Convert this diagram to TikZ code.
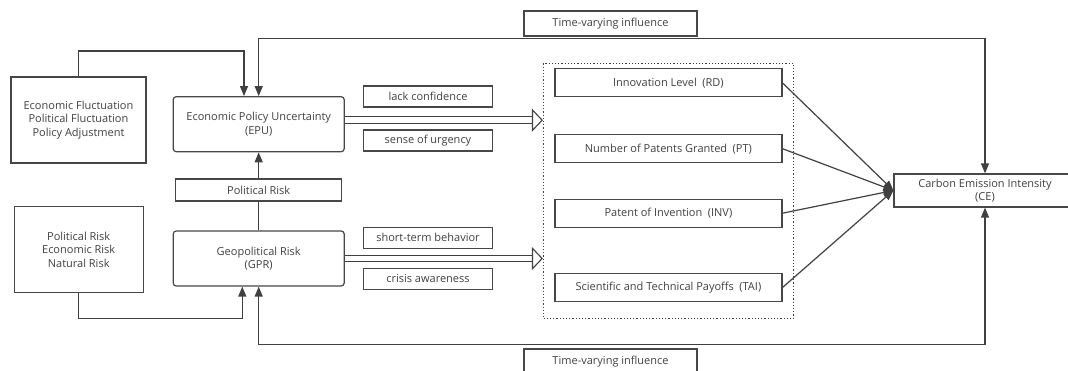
\documentclass[tikz,border=0pt]{standalone}
\usepackage{fontspec}
\setmainfont{Open Sans}
\usetikzlibrary{arrows.meta}

\begin{document}
\begin{tikzpicture}[
    x=1pt, y=-1pt,
    every node/.style={font=\fontsize{11}{13.5}\selectfont, text=black!75,
        inner sep=0pt, align=center},
    boks/.style={rectangle, draw=black!72, line width=1.2pt},
    rund/.style={boks, rounded corners=3pt, minimum width=171, minimum height=55},
    merk/.style={boks, minimum width=129, minimum height=21},
    inno/.style={boks, minimum width=227, minimum height=28},
    tid/.style={boks, minimum width=173, minimum height=25},
    linje/.style={draw=black!75, line width=1.2pt},
    pil/.style={linje, -{Triangle[length=10pt,width=8pt]}},
    pil2/.style={linje, {Triangle[length=10pt,width=8pt]}-{Triangle[length=10pt,width=8pt]}},
    dobbel/.style={draw=black!75, line width=1.1pt, double, double distance=5.5pt,
        -{Triangle[open,length=11pt,width=23pt]}}
    ]
\useasboundingbox (0,0) rectangle (1068,371);

%Left part, causes
\node[boks, minimum width=135, minimum height=86] (svingn) at (78.5,120)
    {Economic Fluctuation\\Political Fluctuation\\Policy Adjustment};
\node[boks, minimum width=129, minimum height=86] (risiko) at (78.7,249.5)
    {Political Risk\\Economic Risk\\Natural Risk};

%Uncertainty and risk
\node[rund] (EPU) at (258.7,124.2) {Economic Policy Uncertainty\\(EPU)};
\node[rund] (GPR) at (258.7,258.5) {Geopolitical Risk\\(GPR)};
\node[boks, minimum width=166, minimum height=22] (polrisk) at (258.7,190) {Political Risk};

%Channels
\node[merk] (lack) at (428,96.5) {lack confidence};
\node[merk] (urgency) at (428,140.5) {sense of urgency};
\node[merk] (short) at (428,237.7) {short-term behavior};
\node[merk] (crisis) at (428,279) {crisis awareness};

%Innovation group
\node[linje, dotted, minimum width=250, minimum height=255] (innov) at (668.5,190.8) {};
\node[inno] (RD) at (668.4,82.9) {Innovation Level\enspace(RD)};
\node[inno] (PT) at (668.4,148.7) {Number of Patents Granted\enspace(PT)};
\node[inno] (INV) at (668.4,213.2) {Patent of Invention\enspace(INV)};
\node[inno] (TAI) at (668.4,287.5) {Scientific and Technical Payoffs\enspace(TAI)};

%Right part
\node[boks, minimum width=182, minimum height=33] (CE) at (985,190.5)
    {Carbon Emission Intensity\\(CE)};
\node[tid] (tidtop) at (610.5,23.5) {Time-varying influence};
\node[tid] (tidbunn) at (610.5,361.5) {Time-varying influence};

%Connectors
\coordinate (epuinn) at ([xshift=-14.7pt]EPU.north);
\coordinate (gprinn) at ([xshift=-16.4pt]GPR.south);
\coordinate (epuut) at ([yshift=4pt]EPU.east);
\draw[pil] (svingn.north) -- ++(0,-25.3) -| (epuinn);
\draw[pil] (risiko.south) -- ++(0,25) -| (gprinn);
\draw[pil2] (EPU.north) -- ++(0,-57.4) -| (CE.north);
\draw[pil2] (GPR.south) -- ++(0,58) -| (CE.south);
\draw[pil] (polrisk) -- (EPU);
\draw[linje] (GPR) -- (polrisk);
\draw[dobbel] (epuut) -- (epuut -| innov.west);
\draw[dobbel] (GPR.east) -- (GPR.east -| innov.west);
\foreach \n in {RD,PT,INV,TAI}
    \draw[pil] (\n.east) -- (CE.west);
\end{tikzpicture}
\end{document}
